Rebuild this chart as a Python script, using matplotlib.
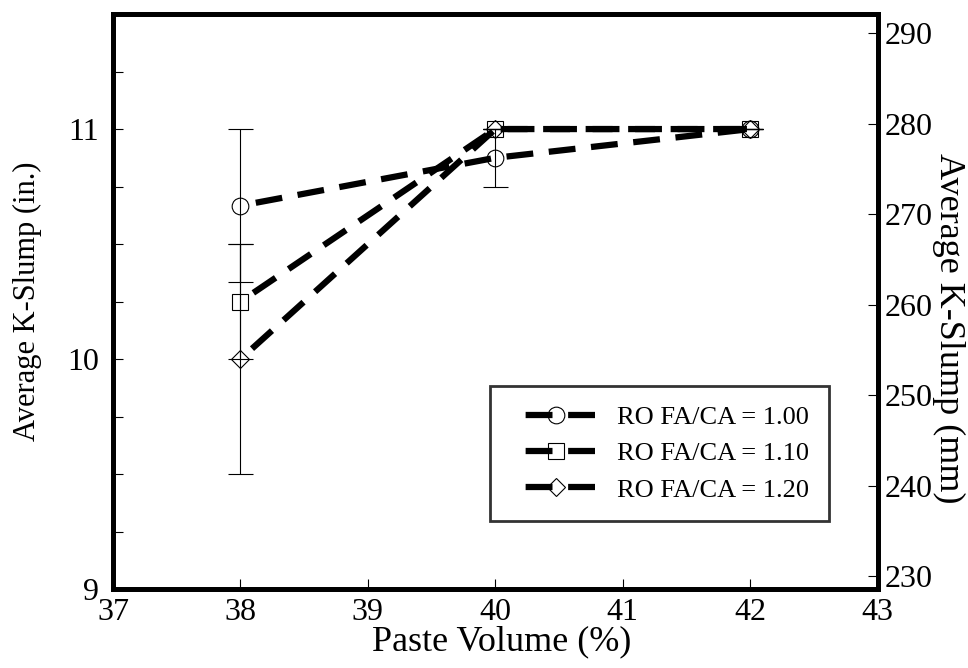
import matplotlib
matplotlib.use("Agg")
import matplotlib.pyplot as plt
from matplotlib.ticker import MultipleLocator

plt.rcParams["font.family"] = ["Liberation Serif", "DejaVu Serif"]

# paste volume (%) and average K-slump (in.) with +/- error
volume = [38, 40, 42]
slump_100 = [10.667, 10.875, 11.0]
err_100 = [0.333, 0.125, 0.0]
slump_110 = [10.25, 11.0, 11.0]
err_110 = [0.25, 0.0, 0.0]
slump_120 = [10.0, 11.0, 11.0]
err_120 = [0.5, 0.0, 0.0]
labels = ["RO FA/CA = 1.00", "RO FA/CA = 1.10", "RO FA/CA = 1.20"]
markers = ["o", "s", "D"]
msizes = [12, 12, 9]

fig = plt.figure(figsize=(9.68, 6.68), dpi=100)
ax = fig.add_axes([0.1167, 0.118, 0.790, 0.861])

series = [(slump_100, err_100), (slump_110, err_110), (slump_120, err_120)]
for (y, e), lab, m, ms in zip(series, labels, markers, msizes):
    ax.errorbar(volume, y, yerr=e, fmt="none", ecolor="black", elinewidth=0.8,
                capsize=9, capthick=0.8, zorder=2)
    ax.plot(volume, y, color="black", lw=4.5, ls=(4.3, (4.3, 2.5)),
            marker=m, ms=ms, mfc="none", mec="black", mew=0.8, label=lab, zorder=3)

ax.set_xlim(37, 43)
ax.set_ylim(9, 11.5)
ax.xaxis.set_major_locator(MultipleLocator(1))
ax.yaxis.set_major_locator(MultipleLocator(1))
ax.yaxis.set_minor_locator(MultipleLocator(0.25))
ax.tick_params(axis="both", which="both", direction="in", length=7, width=0.8,
               labelsize=23, top=False, right=False)
ax.tick_params(axis="y", pad=10)
ax.tick_params(axis="x", pad=6)
for s in ax.spines.values():
    s.set_linewidth(3.5)

ax.set_xlabel("Paste Volume (%)", fontsize=26, labelpad=0)
ax.xaxis.set_label_coords(0.508, -0.062)
ax.set_ylabel("Average K-Slump (in.)", fontsize=22, labelpad=18)

ax2 = ax.twinx()
ax2.set_ylim(9 * 25.4, 11.5 * 25.4)
ax2.yaxis.set_major_locator(MultipleLocator(10))
ax2.tick_params(axis="y", direction="in", length=7, width=0.8, labelsize=23, pad=5)
for s in ax2.spines.values():
    s.set_linewidth(3.5)
ax2.set_ylabel("Average K-Slump (mm)", fontsize=26, rotation=270,
               va="center", ha="center")
ax2.yaxis.set_label_coords(1.093, 0.454)

leg = ax.legend(loc="lower right", bbox_to_anchor=(0.936, 0.118), fontsize=19,
                frameon=True, fancybox=False, edgecolor="black", handlelength=3.5,
                handletextpad=0.57, borderpad=0.75, labelspacing=0.48, borderaxespad=0)
leg.get_frame().set_linewidth(2)

fig.savefig("out.png", dpi=100)
